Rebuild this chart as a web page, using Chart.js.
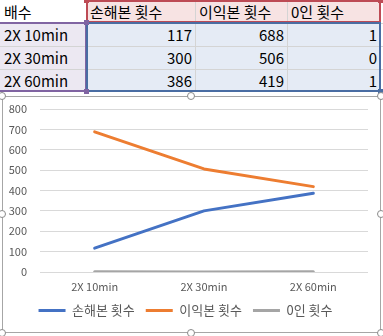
<!DOCTYPE html>
<html>
<head>
<meta charset="utf-8">
<script src="https://cdn.jsdelivr.net/npm/chart.js@4/dist/chart.umd.min.js"></script>
<style>
  html, body { margin: 0; padding: 0; background: #ffffff; }
  body { width: 383px; height: 336px; position: relative; overflow: hidden;
         font-family: "Noto Sans CJK KR", "Noto Sans", sans-serif; }
  .cell { position: absolute; box-sizing: border-box; font-size: 15px; line-height: 23px;
          color: #000; padding: 0 4px; white-space: nowrap; }
  .num { text-align: right; padding: 0 3px; }
  .vline { position: absolute; width: 1px; background: #d4d4d4; }
  .hline { position: absolute; height: 1px; background: #d4d4d4; }
  .box { position: absolute; box-sizing: border-box; }
  .sq { position: absolute; width: 5px; height: 5px; }
  .handle { position: absolute; width: 8px; height: 8px; border-radius: 50%;
            background: #fff; border: 1.5px solid #8a8a8a; box-sizing: border-box; }
  #frame { position: absolute; left: 2px; top: 96px; width: 379px; height: 237px;
           border: 1px solid #a6a6a6; box-sizing: border-box; background: #fff; }
  #wrap { position: absolute; left: 3px; top: 97px; width: 377px; height: 235px; }
</style>
</head>
<body>
<div id="sheet"></div>
<div id="frame"></div>
<div id="wrap"><canvas id="c" width="377" height="235"></canvas></div>
<div id="handles"></div>
<script>
// Series data
const categories = ["2X 10min", "2X 30min", "2X 60min"];
const headerLabel = "배수";
const seriesNames = ["손해본 횟수", "이익본 횟수", "0인 횟수"];
const lossCounts = [117, 300, 386];
const gainCounts = [688, 506, 419];
const zeroCounts = [1, 0, 1];
const yTicks = [0, 100, 200, 300, 400, 500, 600, 700, 800];

const seriesValues = [lossCounts, gainCounts, zeroCounts];
const seriesColors = ["#4472c4", "#ed7d31", "#a5a5a5"];

// ---- worksheet range above the chart ----
const sheet = document.getElementById("sheet");
const colX = [0, 86, 195, 287, 380, 383];
const rowY = [0, 23, 46, 69, 91];

function add(cls, css, text) {
  const d = document.createElement("div");
  d.className = cls;
  Object.assign(d.style, css);
  if (text !== undefined) d.textContent = text;
  sheet.appendChild(d);
  return d;
}

// fills
add("box", { left: "86px", top: "0px", width: "294px", height: "23px", background: "#f7e3e3" });
add("box", { left: "0px", top: "23px", width: "86px", height: "68px", background: "#ece8f2" });
add("box", { left: "86px", top: "23px", width: "294px", height: "68px", background: "#e5ebf5" });

// gridlines
for (let i = 1; i < colX.length - 1; i++) {
  add("vline", { left: colX[i] + "px", top: "0px", height: "92px" });
}
for (let j = 1; j < rowY.length; j++) {
  add("hline", { left: "0px", top: rowY[j] + "px", width: "383px" });
}

// header row
add("cell", { left: "0px", top: "0px", width: "86px" }, headerLabel);
seriesNames.forEach((n, i) => {
  add("cell", { left: colX[i + 1] + "px", top: "0px", width: (colX[i + 2] - colX[i + 1]) + "px" }, n);
});
// body rows
categories.forEach((c, r) => {
  add("cell", { left: "0px", top: rowY[r + 1] + "px", width: "86px" }, c);
  seriesValues.forEach((vals, i) => {
    add("cell num", { left: colX[i + 1] + "px", top: rowY[r + 1] + "px",
                      width: (colX[i + 2] - colX[i + 1]) + "px" }, String(vals[r]));
  });
});

// reference range outlines
add("box", { left: "86px", top: "0px", width: "295px", height: "23px", border: "2px solid #bd4b55" });
add("box", { left: "-2px", top: "22px", width: "89px", height: "70px", border: "2px solid #8064a2" });
add("box", { left: "86px", top: "22px", width: "295px", height: "70px", border: "2px solid #4a6da3" });
add("sq", { left: "84px", top: "-2px", background: "#bd4b55" });
add("sq", { left: "378px", top: "-2px", background: "#bd4b55" });
add("sq", { left: "84px", top: "20px", background: "#8064a2" });
add("sq", { left: "84px", top: "89px", background: "#8064a2" });
add("sq", { left: "378px", top: "89px", background: "#4a6da3" });

// chart frame handles
const handles = document.getElementById("handles");
[[2, 96], [191, 96], [381, 96], [2, 214], [381, 214], [2, 333], [191, 333], [381, 333]]
  .forEach(([x, y]) => {
    const h = document.createElement("div");
    h.className = "handle";
    h.style.left = (x - 4) + "px";
    h.style.top = (y - 4) + "px";
    handles.appendChild(h);
  });

// ---- line chart ----
const fontFamily = "'Noto Sans CJK KR', 'Noto Sans', sans-serif";

// keep the legend band a fixed height so the plot keeps its size
const legendBand = {
  id: "legendBand",
  beforeLayout(chart) {
    const lg = chart.legend;
    if (lg && !lg._bandFixed) {
      const fit = lg.fit;
      lg.fit = function () { fit.call(this); this.height = 39; };
      lg._bandFixed = true;
    }
  }
};

new Chart(document.getElementById("c"), {
  type: "line",
  data: {
    labels: categories,
    datasets: seriesNames.map((name, i) => ({
      label: name,
      data: seriesValues[i],
      borderColor: seriesColors[i],
      backgroundColor: seriesColors[i],
      borderWidth: 3,
      pointRadius: 0,
      pointHoverRadius: 0,
      tension: 0,
      borderCapStyle: "round",
      borderJoinStyle: "round"
    }))
  },
  options: {
    responsive: false,
    animation: false,
    events: [],
    layout: { padding: { top: 12, right: 12, left: 0, bottom: 0 } },
    scales: {
      x: {
        offset: true,
        afterFit: (scale) => { scale.height = 21; scale.paddingTop = 0; scale.paddingBottom = 0; },
        grid: { display: false, drawTicks: false },
        border: { display: false },
        ticks: { color: "#595959", font: { family: fontFamily, size: 11 }, padding: 8, maxRotation: 0 }
      },
      y: {
        min: 0,
        max: 800,
        afterBuildTicks: (scale) => { scale.ticks = yTicks.map(v => ({ value: v })); },
        afterFit: (scale) => { scale.width = 37; scale.paddingTop = 0; scale.paddingBottom = 0; },
        grid: { color: "#d9d9d9", drawTicks: false },
        border: { display: false },
        ticks: { color: "#595959", font: { family: fontFamily, size: 11 }, padding: 13 }
      }
    },
    plugins: {
      tooltip: { enabled: false },
      legend: {
        position: "bottom",
        labels: {
          usePointStyle: true,
          pointStyle: "line",
          pointStyleWidth: 27,
          boxHeight: 13,
          padding: 11,
          color: "#595959",
          font: { family: fontFamily, size: 13 }
        }
      }
    }
  },
  plugins: [legendBand]
});
</script>
</body>
</html>
